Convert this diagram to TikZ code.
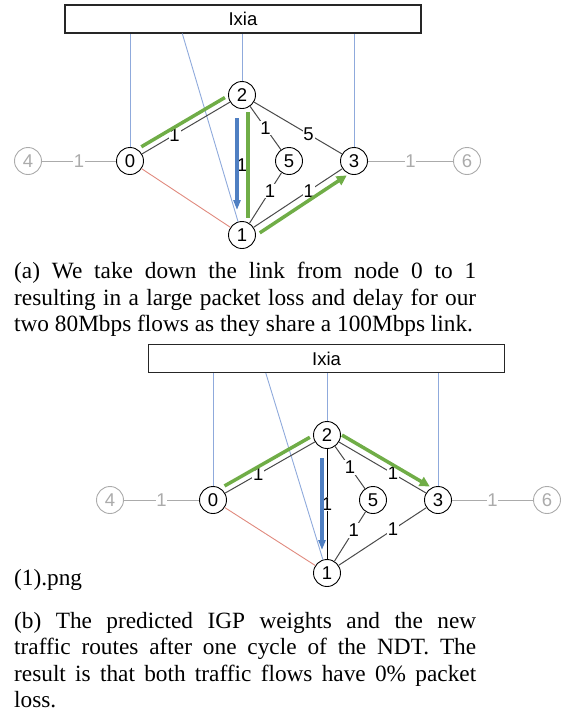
\documentclass[tikz,border=0pt]{standalone}
\usepackage{fontspec}
\setmainfont{Liberation Serif}
\setsansfont{Liberation Sans}
\usetikzlibrary{arrows.meta,calc}
\definecolor{Leaf}{HTML}{70AD47}
\definecolor{Sky}{HTML}{4F7FC2}
\definecolor{Wire}{HTML}{8FAADC}
\definecolor{Rust}{HTML}{E08A7E}
\definecolor{Ash}{HTML}{ABABAB}
\definecolor{Slate}{HTML}{4A4A4A}

\begin{document}
\begin{tikzpicture}[x=1pt, y=-1pt, >=Latex,
    router/.style={circle, draw=black, fill=white, line width=0.9pt, minimum size=27pt, inner sep=0pt, font=\sffamily\fontsize{18.5}{18.5}\selectfont},
    stub/.style={router, draw=Ash, text=Ash},
    link/.style={draw=Slate, line width=1pt},
    stublink/.style={draw=Ash, line width=1pt},
    weight/.style={fill=white, inner sep=0.8pt, font=\sffamily\fontsize{18.5}{18.5}\selectfont},
    tap/.style={draw=Wire, line width=0.9pt},
    downlink/.style={draw=Rust, line width=0.9pt},
    flow/.style={draw=Leaf, line width=3.5pt},
    probe/.style={draw=Sky, line width=3.5pt},
    ixia/.style={draw=black!85, line width=1.1pt, fill=white, minimum width=356pt, minimum height=28pt, inner sep=0pt, font=\sffamily\fontsize{18.5}{18.5}\selectfont},
    caption/.style={text width=462pt, align=justify, inner sep=0pt, anchor=north west, font=\fontsize{23.3}{26.5}\selectfont}]
  \useasboundingbox (0,0) rectangle (573,713);

  % (a) link 0-1 taken down
  \begin{scope}[shift={(242,95)}]
    \node[ixia] (aixia) at (1,-76) {Ixia};
    \node[router] (a2) at (0,0) {2};
    \node[router] (a0) at (-112,66) {0};
    \node[router] (a5) at (47,66) {5};
    \node[router] (a3) at (112,66) {3};
    \node[router] (a1) at (0,140) {1};
    \node[stub] (a4) at (-214,66) {4};
    \node[stub] (a6) at (225,66) {6};
    \coordinate (aport) at ($(aixia.south west)!0.33!(aixia.south east)$);

    \draw[tap] (a0) -- (a0 |- aixia.south);
    \draw[tap] (a2) -- (a2 |- aixia.south);
    \draw[tap] (a3) -- (a3 |- aixia.south);
    \draw[tap] (aport) -- (a1);

    \draw[stublink] (a4) -- node[weight, text=Ash] {1} (a0);
    \draw[stublink] (a3) -- node[weight, text=Ash] {1} (a6);
    \draw[downlink] (a0) -- (a1);
    \draw[link] (a0) -- node[weight, pos=0.37] {1} (a2);
    \draw[link] (a2) -- node[weight] {1} (a5);
    \draw[link] (a2) -- node[weight, pos=0.62] {5} (a3);
    \draw[draw=Slate, line width=0.7pt, double=white, double distance=1.4pt] (a2) -- node[weight] {1} (a1);
    \draw[link] (a5) -- node[weight, pos=0.36] {1} (a1);
    \draw[link] (a1) -- node[weight, pos=0.62] {1} (a3);

    % the two flows
    \draw[flow] ($(a0)!17pt!(a2)!6.5pt!90:(a2)$) -- ($(a2)!16pt!(a0)!6.5pt!-90:(a0)$);
    \draw[flow] ($(a2)!17pt!(a1)!6pt!90:(a1)$) -- ($(a1)!17pt!(a2)!6pt!-90:(a2)$);
    \draw[flow, -{Triangle[length=10pt, width=10pt]}] ($(a1)!16pt!(a3)!8pt!-90:(a3)$) -- ($(a3)!14pt!(a1)!8pt!90:(a1)$);
    \draw[probe, -{Triangle[length=10pt, width=7pt]}] ($(a2)!23pt!(a1)!5pt!-90:(a1)$) -- ($(a1)!25pt!(a2)!5pt!90:(a2)$);
  \end{scope}

  \node[caption] (acap) at (14,262) {\tolerance=9999 (a) We take down the link from node 0 to 1\linebreak
    resulting in a large packet loss and delay for our\linebreak
    two 80Mbps flows as they share a 100Mbps link.};

  % (b) after one NDT cycle
  \begin{scope}[shift={(327,435)}]
    \node[ixia] (bixia) at (-0.5,-76.5) {Ixia};
    \node[router] (b2) at (0,0) {2};
    \node[router] (b0) at (-114,65) {0};
    \node[router] (b5) at (46,65) {5};
    \node[router] (b3) at (111,65) {3};
    \node[router] (b1) at (0,138) {1};
    \node[stub] (b4) at (-217,65) {4};
    \node[stub] (b6) at (220,65) {6};
    \coordinate (bport) at ($(bixia.south west)!0.33!(bixia.south east)$);

    \draw[tap] (b0) -- (b0 |- bixia.south);
    \draw[tap] (b2) -- (b2 |- bixia.south);
    \draw[tap] (b3) -- (b3 |- bixia.south);
    \draw[tap] (bport) -- (b1);

    \draw[stublink] (b4) -- node[weight, text=Ash] {1} (b0);
    \draw[stublink] (b3) -- node[weight, text=Ash] {1} (b6);
    \draw[downlink] (b0) -- (b1);
    \draw[link] (b0) -- node[weight, pos=0.37] {1} (b2);
    \draw[link] (b2) -- node[weight] {1} (b5);
    \draw[link] (b2) -- node[weight, pos=0.62] {1} (b3);
    \draw[draw=black, line width=1pt] (b2) -- node[weight] {1} (b1);
    \draw[link] (b5) -- node[weight, pos=0.38] {1} (b1);
    \draw[link] (b1) -- node[weight, pos=0.62] {1} (b3);

    % rerouted flows
    \draw[flow] ($(b0)!17pt!(b2)!6.5pt!90:(b2)$) -- ($(b2)!16pt!(b0)!6.5pt!-90:(b0)$);
    \draw[flow, -{Triangle[length=10pt, width=10pt]}] ($(b2)!13pt!(b3)!7.5pt!90:(b3)$) -- ($(b3)!14pt!(b2)!7.5pt!-90:(b2)$);
    \draw[probe, -{Triangle[length=10pt, width=7pt]}] ($(b2)!23pt!(b1)!5pt!-90:(b1)$) -- ($(b1)!23pt!(b2)!5pt!90:(b2)$);
  \end{scope}

  \node[anchor=base west, inner sep=0pt, font=\fontsize{23.3}{26.5}\selectfont] (bname) at (14,585) {(1).png};
  \node[caption] (bcap) at (14,612) {\tolerance=9999 (b) The predicted IGP weights and the new\linebreak
    traffic routes after one cycle of the NDT. The\linebreak
    result is that both traffic flows have 0\% packet\linebreak
    loss.};
\end{tikzpicture}
\end{document}
